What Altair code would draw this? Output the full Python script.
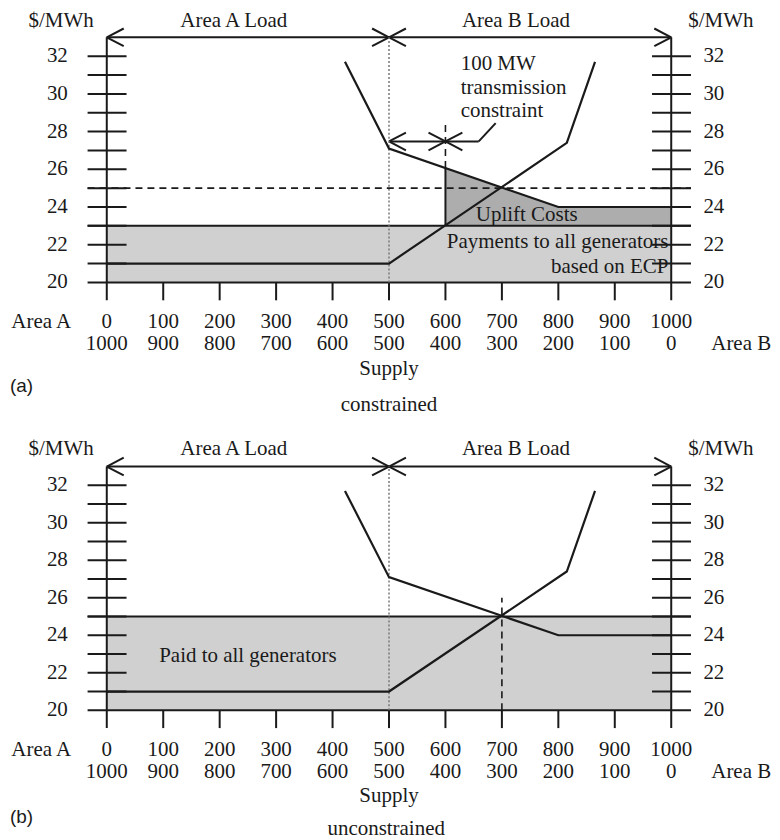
import altair as alt
import pandas as pd

# ---------------- data ----------------
X_TICKS = [0, 100, 200, 300, 400, 500, 600, 700, 800, 900, 1000]
AREA_A_LABELS = ["0", "100", "200", "300", "400", "500", "600", "700", "800", "900", "1000"]
AREA_B_LABELS = ["1000", "900", "800", "700", "600", "500", "400", "300", "200", "100", "0"]
Y_LABEL_VALUES = [20, 22, 24, 26, 28, 30, 32]
Y_TICK_VALUES = [21, 22, 23, 24, 25, 26, 27, 28, 29, 30, 31, 32]

DEMAND_X = [422, 500, 800, 1000]
DEMAND_Y = [31.7, 27.1, 24.0, 24.0]
SUPPLY_X = [0, 500, 815, 865]
SUPPLY_Y = [21.0, 21.0, 27.4, 31.7]

PRICE_FLOOR = 20
LOAD_LINE = 33
AREA_SPLIT = 500
ECP_CONSTRAINED = 23
CLEARING_PRICE = 25
CONSTRAINT_X = 600
CLEARING_X = 700
UPLIFT_X = [600, 800, 1000]
UPLIFT_TOP = [26.07, 24.0, 24.0]

# ---------------- layout helpers ----------------
W = 764
XDOM = [-175, 1175]
FONT = "Liberation Serif"
FS = 21
INK = "#1a1a1a"
TICK_L, TICK_R = -34, 35          # tick half-lengths (data units of x)
AX_BOTTOM = 19.05                 # bottom end of axis / x ticks
ARM_X, ARM_Y = 30, 0.47           # arrow-head arms


def xs():
    return alt.Scale(domain=XDOM, nice=False, zero=False)


def ys(dom):
    return alt.Scale(domain=dom, nice=False, zero=False)


def rules(segs, ydom, width=2.0, dash=None, color=INK):
    df = pd.DataFrame(segs, columns=["x", "x2", "y", "y2"])
    kw = dict(strokeWidth=width, color=color)
    if dash:
        kw["strokeDash"] = dash
    return alt.Chart(df).mark_rule(**kw).encode(
        x=alt.X("x:Q", scale=xs(), axis=None),
        x2="x2:Q",
        y=alt.Y("y:Q", scale=ys(ydom), axis=None),
        y2="y2:Q",
    )


def texts(rows, ydom, align="center", font=FONT, size=FS, baseline="middle"):
    df = pd.DataFrame(rows, columns=["x", "y", "t"])
    return alt.Chart(df).mark_text(
        align=align, baseline=baseline, font=font, fontSize=size, color=INK
    ).encode(
        x=alt.X("x:Q", scale=xs(), axis=None),
        y=alt.Y("y:Q", scale=ys(ydom), axis=None),
        text="t:N",
    )


def arrowhead(x, y, direction):
    # direction -1: "<" tip at x ; +1: ">" tip at x
    bx = x - direction * ARM_X
    return [(bx, x, y + ARM_Y, y), (bx, x, y - ARM_Y, y)]


def build_panel(ydom, height, shade_top, label, sublabel, extra_layers, extra_solid, extra_dashed):
    layers = []
    # shaded payments block
    shade = pd.DataFrame({"x": [0], "x2": [1000], "y": [PRICE_FLOOR], "y2": [shade_top]})
    layers.append(
        alt.Chart(shade).mark_rect(color="#d0d0d0").encode(
            x=alt.X("x:Q", scale=xs(), axis=None), x2="x2:Q",
            y=alt.Y("y:Q", scale=ys(ydom), axis=None), y2="y2:Q",
        )
    )
    layers += extra_layers

    solid = []
    # axes
    solid.append((0, 0, AX_BOTTOM, LOAD_LINE))
    solid.append((1000, 1000, AX_BOTTOM, LOAD_LINE))
    # x ticks
    for v in X_TICKS[1:-1]:
        solid.append((v, v, AX_BOTTOM, PRICE_FLOOR))
    # y ticks both sides
    for v in Y_TICK_VALUES:
        solid.append((TICK_L, TICK_R, v, v))
        solid.append((1000 + TICK_L, 1000 + TICK_R, v, v))
    # floor line
    solid.append((TICK_L, 1000 + TICK_R, PRICE_FLOOR, PRICE_FLOOR))
    # load arrow line with heads
    solid.append((0, 1000, LOAD_LINE, LOAD_LINE))
    solid += arrowhead(0, LOAD_LINE, -1)
    solid += arrowhead(1000, LOAD_LINE, 1)
    solid += arrowhead(AREA_SPLIT, LOAD_LINE, 1)
    solid += arrowhead(AREA_SPLIT, LOAD_LINE, -1)
    solid += extra_solid
    layers.append(rules(solid, ydom, width=2.0))

    # dotted split line
    layers.append(rules([(AREA_SPLIT, AREA_SPLIT, PRICE_FLOOR, LOAD_LINE)], ydom,
                        width=1.5, dash=[2, 2], color="#777777"))
    if extra_dashed:
        layers.append(rules(extra_dashed, ydom, width=1.6, dash=[7, 5]))

    # curves
    curve = pd.DataFrame({
        "x": DEMAND_X + SUPPLY_X,
        "y": DEMAND_Y + SUPPLY_Y,
        "s": ["demand"] * len(DEMAND_X) + ["supply"] * len(SUPPLY_X),
        "i": list(range(len(DEMAND_X))) + list(range(len(SUPPLY_X))),
    })
    layers.append(
        alt.Chart(curve).mark_line(color=INK, strokeWidth=2.2).encode(
            x=alt.X("x:Q", scale=xs(), axis=None),
            y=alt.Y("y:Q", scale=ys(ydom), axis=None),
            detail="s:N", order="i:Q",
        )
    )

    # texts
    hdr_y = label[2]
    layers.append(texts([(-81, hdr_y, "$/MWh"), (1088, hdr_y, "$/MWh"),
                         (225, hdr_y, "Area A Load"), (725, hdr_y, "Area B Load")], ydom))
    layers.append(texts([(-69, v, str(v)) for v in Y_LABEL_VALUES], ydom, align="right"))
    layers.append(texts([(1057, v, str(v)) for v in Y_LABEL_VALUES], ydom, align="left"))
    row1 = [(x, 17.9, t) for x, t in zip(X_TICKS, AREA_A_LABELS)] + [(-116, 17.9, "Area A")]
    row2 = [(x, 16.72, t) for x, t in zip(X_TICKS, AREA_B_LABELS)] + [(1124, 16.72, "Area B")]
    layers.append(texts(row1 + row2 + [(500, 15.42, "Supply")], ydom))
    layers.append(texts([(-151, label[1], label[0])], ydom, font="Liberation Sans", size=19))
    layers.append(texts([sublabel], ydom))
    return alt.layer(*layers).properties(width=W, height=height)


# ---------------- panel (a): constrained ----------------
YA = [12.7, 34.5]
uplift_df = pd.DataFrame({"x": UPLIFT_X, "y": UPLIFT_TOP, "y2": [ECP_CONSTRAINED] * len(UPLIFT_X)})
uplift = alt.Chart(uplift_df).mark_area(color="#adadad", opacity=1).encode(
    x=alt.X("x:Q", scale=xs(), axis=None),
    y=alt.Y("y:Q", scale=ys(YA), axis=None), y2="y2:Q",
)
arrow_y = 27.48
solid_a = [
    (TICK_L, 1000 + TICK_R, ECP_CONSTRAINED, ECP_CONSTRAINED),
    (CONSTRAINT_X, CONSTRAINT_X, ECP_CONSTRAINED, UPLIFT_TOP[0]),
    (AREA_SPLIT, 659, arrow_y, arrow_y),
    (659, 689, arrow_y, 28.45),
]
solid_a += arrowhead(AREA_SPLIT, arrow_y, -1)
solid_a += arrowhead(CONSTRAINT_X, arrow_y, 1)
solid_a += arrowhead(CONSTRAINT_X, arrow_y, -1)
dashed_a = [
    (TICK_L, 1000 + TICK_R, CLEARING_PRICE, CLEARING_PRICE),
    (CONSTRAINT_X, CONSTRAINT_X, UPLIFT_TOP[0], 28.5),
]
text_a = [
    texts([(627, 31.6, "100 MW"), (627, 30.32, "transmission"), (627, 29.1, "constraint")], YA, align="left"),
    texts([(744, 23.55, "Uplift Costs")], YA),
    texts([(995, 22.14, "Payments to all generators"), (995, 20.8, "based on ECP")], YA, align="right"),
]
panel_a = build_panel(YA, 412, ECP_CONSTRAINED, ("(a)", 14.5, 33.85), (500, 13.5, "constrained"),
                      [uplift] + text_a, solid_a, dashed_a)

# ---------------- panel (b): unconstrained ----------------
YB = [13.14, 35.48]
solid_b = [(TICK_L, 1000 + TICK_R, CLEARING_PRICE, CLEARING_PRICE)]
dashed_b = [(CLEARING_X, CLEARING_X, PRICE_FLOOR, 26.0)]
text_b = [texts([(250, 22.89, "Paid to all generators")], YB)]
panel_b = build_panel(YB, 420, CLEARING_PRICE, ("(b)", 14.31, 33.95), (495, 13.67, "unconstrained"),
                      text_b, solid_b, dashed_b)

chart = alt.vconcat(panel_a, panel_b, spacing=0).properties(padding=0).configure_view(stroke=None)

chart.save("out.html", embed_options={"renderer": "svg", "actions": False})
